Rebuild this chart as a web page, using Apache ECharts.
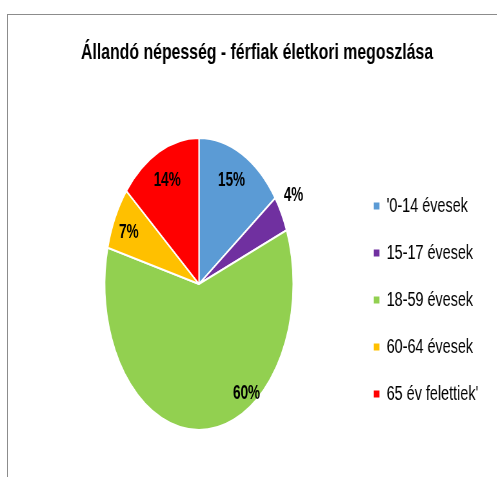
<!DOCTYPE html>
<html>
<head>
<meta charset="utf-8">
<script src="https://cdn.jsdelivr.net/npm/echarts@6/dist/echarts.min.js"></script>
<style>
  html, body { margin: 0; padding: 0; background: #fff; overflow: hidden; }
  #frame { position: absolute; left: 7px; top: 14px; width: 500px; height: 470px;
           border-left: 1px solid #8c8c8c; border-top: 1px solid #8c8c8c; }
  /* the original picture is squeezed sideways, so both layers are drawn wide and scaled */
  #pie { position: absolute; left: 0; top: 0; width: 771px; height: 477px;
         transform: scaleX(0.645); transform-origin: 0 0; }
  #front { position: absolute; left: 0; top: 0; width: 690px; height: 477px;
           transform: scaleX(0.72); transform-origin: 0 0; }
</style>
</head>
<body>
<div id="frame"></div>
<div id="pie"></div>
<div id="front"></div>
<script>
var titleText = 'Állandó népesség - férfiak életkori megoszlása';
var categories = ["'0-14 évesek", '15-17 évesek', '18-59 évesek', '60-64 évesek', "65 év felettiek'"];
var shares = [15, 4, 60, 7, 14];
var colors = ['#5b9bd5', '#7030a0', '#92d050', '#ffc000', '#ff0000'];

var data = [];
for (var i = 0; i < categories.length; i++) {
    data.push({ name: categories[i], value: shares[i] });
}

// where excel moved the labels away from the middle of each slice
var nudge = [[16, -36], [80, -52], [69, 33], [-41, -17], [-17, -35]];

var pieChart = echarts.init(document.getElementById('pie'));
pieChart.setOption({
    color: colors,
    animation: false,
    series: [{
        type: 'pie',
        center: [308.5, 284],
        radius: [0, 146],
        startAngle: 90,
        clockwise: true,
        silent: true,
        itemStyle: { borderColor: '#fff', borderWidth: 2 },
        label: {
            show: true,
            position: 'inside',
            formatter: '{c}%',
            color: '#000',
            fontFamily: 'Liberation Sans',
            fontWeight: 'bold',
            fontSize: 21
        },
        labelLine: { show: false },
        labelLayout: function (p) {
            return { dx: nudge[p.dataIndex][0], dy: nudge[p.dataIndex][1] };
        },
        data: data
    }]
});

var frontChart = echarts.init(document.getElementById('front'));
frontChart.setOption({
    color: colors,
    animation: false,
    title: {
        text: titleText,
        left: 352,
        top: 37,
        textAlign: 'center',
        textStyle: {
            color: '#000',
            fontFamily: 'Liberation Sans',
            fontWeight: 'bold',
            fontSize: 22
        }
    },
    legend: {
        orient: 'vertical',
        left: 514,
        top: 191,
        icon: 'rect',
        itemWidth: 8,
        itemHeight: 7,
        itemGap: 27,
        selectedMode: false,
        textStyle: {
            color: '#000',
            fontFamily: 'Liberation Sans',
            fontSize: 20,
            lineHeight: 20,
            padding: [0, 0, 0, 5]
        },
        data: categories
    },
    series: [{
        // only feeds the legend, the visible pie is the layer underneath
        type: 'pie',
        radius: [0, 0],
        silent: true,
        label: { show: false },
        labelLine: { show: false },
        data: data
    }]
});
</script>
</body>
</html>
